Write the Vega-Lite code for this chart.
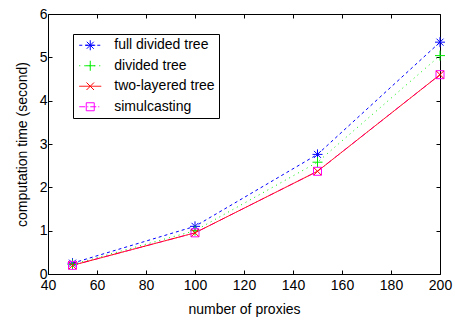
{
  "$schema": "https://vega.github.io/schema/vega-lite/v6.json",
  "width": 392,
  "height": 260,
  "autosize": {"type": "none"},
  "padding": {"left": 48, "top": 14, "right": 15, "bottom": 46},
  "config": {
    "font": "Liberation Sans",
    "view": {"stroke": "black", "strokeWidth": 1},
    "axis": {"grid": false, "domain": false, "labelFlush": false, "labelOverlap": false, "tickColor": "black", "tickSize": -4, "labelColor": "black", "labelFontSize": 14, "titleFontSize": 14, "titleFontWeight": "normal", "titleColor": "black", "labelFont": "Liberation Sans", "titleFont": "Liberation Sans"},
    "legend": {"labelFont": "Liberation Sans"}
  },
  "data": {"values": [
    {"proxies": 50, "time": 0.25, "series": "full divided tree"},
    {"proxies": 100, "time": 1.1, "series": "full divided tree"},
    {"proxies": 150, "time": 2.76, "series": "full divided tree"},
    {"proxies": 200, "time": 5.35, "series": "full divided tree"},
    {"proxies": 50, "time": 0.22, "series": "divided tree"},
    {"proxies": 100, "time": 1.0, "series": "divided tree"},
    {"proxies": 150, "time": 2.58, "series": "divided tree"},
    {"proxies": 200, "time": 5.04, "series": "divided tree"},
    {"proxies": 50, "time": 0.2, "series": "simulcasting"},
    {"proxies": 100, "time": 0.95, "series": "simulcasting"},
    {"proxies": 150, "time": 2.37, "series": "simulcasting"},
    {"proxies": 200, "time": 4.6, "series": "simulcasting"},
    {"proxies": 50, "time": 0.2, "series": "two-layered tree"},
    {"proxies": 100, "time": 0.95, "series": "two-layered tree"},
    {"proxies": 150, "time": 2.37, "series": "two-layered tree"},
    {"proxies": 200, "time": 4.6, "series": "two-layered tree"}
  ]},
  "resolve": {"axis": {"x": "independent", "y": "independent"}, "scale": {"color": "independent", "shape": "independent", "strokeDash": "independent"}},
  "layer": [
    {
      "mark": {"type": "line", "strokeWidth": 1},
      "encoding": {
        "x": {"field": "proxies", "type": "quantitative", "scale": {"domain": [40, 200], "nice": false, "zero": false}, "axis": {"values": [40,60,80,100,120,140,160,180,200], "title": "number of proxies", "labelPadding": 8, "titlePadding": 10}},
        "y": {"field": "time", "type": "quantitative", "scale": {"domain": [0, 6], "nice": false}, "axis": {"values": [0,1,2,3,4,5,6], "title": "computation time (second)", "labelPadding": 5, "titlePadding": 10}},
        "color": {"field": "series", "type": "nominal", "scale": {"domain": ["full divided tree", "divided tree", "two-layered tree", "simulcasting"], "range": ["#0000ff", "#00ee00", "#ff0000", "#ff00ff"]},
          "legend": {"title": null, "orient": "none", "legendX": 25, "legendY": 20, "strokeColor": "black", "fillColor": "white", "padding": 4.25, "labelFontSize": 14, "labelColor": "black", "rowPadding": 6.5, "symbolSize": 100, "symbolType": "M-2.2,0H2.2", "symbolStrokeWidth": 1, "symbolOffset": 6, "labelOffset": 17}},
        "strokeDash": {"field": "series", "type": "nominal", "scale": {"domain": ["full divided tree", "divided tree", "two-layered tree", "simulcasting"], "range": [[3, 3], [1, 4], [1, 0], [6, 2, 1, 2]]},
          "legend": {"title": null, "orient": "none", "legendX": 25, "legendY": 20, "strokeColor": "black", "fillColor": "white", "padding": 4.25, "labelFontSize": 14, "labelColor": "black", "rowPadding": 6.5, "symbolSize": 100, "symbolType": "M-2.2,0H2.2", "symbolStrokeWidth": 1, "symbolOffset": 6, "labelOffset": 17}}
      }
    },
    {
      "mark": {"type": "point", "filled": false, "strokeWidth": 1, "size": 100, "opacity": 1},
      "encoding": {
        "x": {"field": "proxies", "type": "quantitative", "scale": {"domain": [40, 200], "nice": false, "zero": false}, "axis": null},
        "y": {"field": "time", "type": "quantitative", "scale": {"domain": [0, 6], "nice": false}, "axis": null},
        "color": {"field": "series", "type": "nominal", "scale": {"domain": ["full divided tree", "divided tree", "two-layered tree", "simulcasting"], "range": ["#0000ff", "#00ee00", "#ff0000", "#ff00ff"]},
          "legend": {"title": null, "orient": "none", "legendX": 25, "legendY": 20, "strokeColor": "transparent", "fillColor": "transparent", "padding": 4.25, "labelFontSize": 14, "labelColor": "black", "labelOpacity": 0, "rowPadding": 6.5, "symbolSize": 100, "symbolStrokeWidth": 1, "symbolOffset": 6, "labelOffset": 17}},
        "shape": {"field": "series", "type": "nominal", "scale": {"domain": ["full divided tree", "divided tree", "two-layered tree", "simulcasting"], "range": ["M-1,0H1M0,-1V1M-0.7,-0.7L0.7,0.7M-0.7,0.7L0.7,-0.7", "M-1,0H1M0,-1V1", "M-0.75,-0.75L0.75,0.75M-0.75,0.75L0.75,-0.75", "M-0.8,-0.8H0.8V0.8H-0.8Z"]},
          "legend": {"title": null, "orient": "none", "legendX": 25, "legendY": 20, "strokeColor": "transparent", "fillColor": "transparent", "padding": 4.25, "labelFontSize": 14, "labelColor": "black", "labelOpacity": 0, "rowPadding": 6.5, "symbolSize": 100, "symbolStrokeWidth": 1, "symbolOffset": 6, "labelOffset": 17}}
      }
    },
    {
      "mark": {"type": "point", "opacity": 0},
      "encoding": {
        "x": {"field": "proxies", "type": "quantitative", "scale": {"domain": [40, 200], "nice": false, "zero": false}, "axis": {"orient": "top", "values": [40,60,80,100,120,140,160,180,200], "labels": false, "title": null}},
        "y": {"field": "time", "type": "quantitative", "scale": {"domain": [0, 6], "nice": false}, "axis": {"orient": "right", "values": [0,1,2,3,4,5,6], "labels": false, "title": null}}
      }
    }
  ]
}
